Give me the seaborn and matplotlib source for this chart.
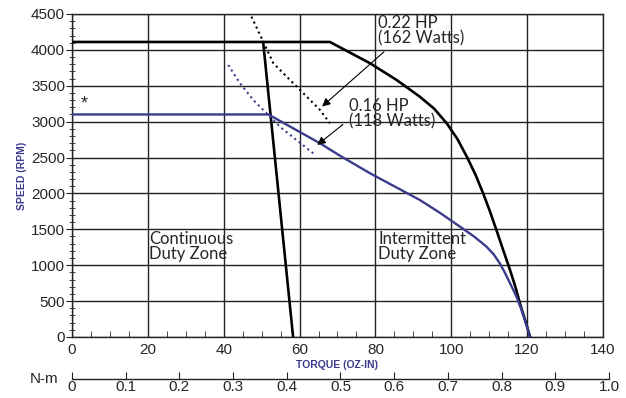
import numpy as np
import pandas as pd
import matplotlib
matplotlib.use("Agg")
import matplotlib.pyplot as plt
from matplotlib.ticker import MultipleLocator
import seaborn as sns

# Speed-torque curve data (torque in oz-in, speed in rpm)
hp22_torque = [0, 68.0, 78.6, 85.6, 91.7, 95.5, 98.8, 101.6, 104.1, 106.4,
               108.4, 110.2, 111.9, 113.7, 115.5, 116.9, 118.1, 119.5, 120.8]
hp22_speed = [4110, 4110, 3813, 3580, 3348, 3180, 2977, 2760, 2512, 2260,
              2002, 1750, 1491, 1210, 933, 700, 469, 230, 0]

hp16_torque = [0, 51.8, 65.4, 70.2, 78.6, 91.7, 97.0, 102.3, 106.0, 109.3,
               111.2, 112.8, 114.2, 115.5, 117.2, 118.5, 119.7, 120.8]
hp16_speed = [3100, 3100, 2698, 2540, 2280, 1909, 1730, 1537, 1400, 1258,
              1150, 1026, 890, 748, 562, 380, 190, 0]

stall_torque = [50.4, 58.3]
stall_speed = [4110, 0]

hp22_power_torque = [46.7, 49.6, 53.1, 57.5, 61.9, 65.4, 68.0]
hp22_power_speed = [4532, 4207, 3813, 3580, 3348, 3162, 2977]

hp16_power_torque = [41.2, 44.3, 47.8, 51.3, 54.8, 59.2, 63.6]
hp16_power_speed = [3789, 3534, 3302, 3116, 2930, 2744, 2559]

nm_ticks = [0, 0.1, 0.2, 0.3, 0.4, 0.5, 0.6, 0.7, 0.8, 0.9, 1.0]
nm_labels = ["0", "0.1", "0.2", "0.3", "0.4", "0.5", "0.6", "0.7", "0.8", "0.9", "1.0"]

BLUE = "#3b3b8e"

sns.set_style("white")
plt.rcParams["font.family"] = ["Liberation Sans", "DejaVu Sans"]

fig = plt.figure(figsize=(6.26, 3.98), dpi=100)
ax = fig.add_axes([0.115, 0.1533, 0.8482, 0.8116])

def draw(x, y, color, lw, ls="-"):
    df = pd.DataFrame({"torque": x, "speed": y})
    sns.lineplot(data=df, x="torque", y="speed", sort=False, color=color,
                 linewidth=lw, linestyle=ls, ax=ax, zorder=3)

draw(hp22_torque, hp22_speed, "black", 1.9)
draw(stall_torque, stall_speed, "black", 1.9)
draw(hp16_torque, hp16_speed, BLUE, 1.7)
draw(hp22_power_torque, hp22_power_speed, "black", 1.5, ":")
draw(hp16_power_torque, hp16_power_speed, BLUE, 1.5, ":")

ax.set_xlim(0, 140)
ax.set_ylim(0, 4500)
ax.xaxis.set_major_locator(MultipleLocator(20))
ax.xaxis.set_minor_locator(MultipleLocator(5))
ax.yaxis.set_major_locator(MultipleLocator(500))
ax.yaxis.set_minor_locator(MultipleLocator(100))
ax.grid(True, which="major", color="#222222", linewidth=1.0)
for s in ax.spines.values():
    s.set_color("#222222")
    s.set_linewidth(1.0)
ax.tick_params(axis="both", which="major", labelsize=11, length=4,
               color="#222222", pad=1)
ax.tick_params(axis="y", which="major", direction="out", left=True)
ax.tick_params(axis="y", which="minor", direction="inout", left=True, length=5,
               color="#222222")
ax.tick_params(axis="x", which="minor", direction="in", bottom=True, length=4,
               color="#222222")
ax.tick_params(axis="x", which="major", direction="in", bottom=True, length=0,
               pad=4)

ax.set_xlabel("TORQUE (OZ-IN)", color=BLUE, fontsize=7.5, fontweight="bold",
              labelpad=0)
ax.set_ylabel("SPEED (RPM)", color=BLUE, fontsize=7.5, fontweight="bold",
              labelpad=3)
ax.xaxis.set_label_coords(0.5, -0.07)

txt = dict(fontsize=12, family=["Lato", "DejaVu Sans"], linespacing=0.95,
           va="top", ha="left")
ax.text(20.3, 1480, "Continuous\nDuty Zone", **txt)
ax.text(80.7, 1480, "Intermittent\nDuty Zone", **txt)
ax.text(2.3, 3250, "*", fontsize=13, ha="left", va="center")

arrow = dict(arrowstyle="-|>", color="black", lw=0.8, mutation_scale=12)
ax.text(80.6, 4490, "0.22 HP\n(162 Watts)", **txt)
ax.annotate("", xy=(65.4, 3185), xytext=(82.8, 3998), arrowprops=arrow)
ax.text(73.0, 3330, "0.16 HP\n(118 Watts)", **txt)
ax.annotate("", xy=(64.1, 2651), xytext=(72.0, 2985), arrowprops=arrow)

# secondary N-m scale below the plot
ax2 = fig.add_axes([0.115, 0.0477, 0.8578, 0.0001])
ax2.set_xlim(0, 1.0)
ax2.set_ylim(0, 1)
ax2.set_yticks([])
for name in ["top", "left", "right"]:
    ax2.spines[name].set_visible(False)
ax2.spines["bottom"].set_color("#222222")
ax2.spines["bottom"].set_linewidth(1.0)
ax2.set_xticks(nm_ticks)
ax2.set_xticklabels(nm_labels)
ax2.tick_params(axis="x", direction="in", length=5, labelsize=11,
                color="#222222", pad=1, bottom=True)
ax2.text(-0.025, 0, "N-m", transform=ax2.transAxes, ha="right", va="center",
         fontsize=11)

fig.savefig("out.png", dpi=100)
